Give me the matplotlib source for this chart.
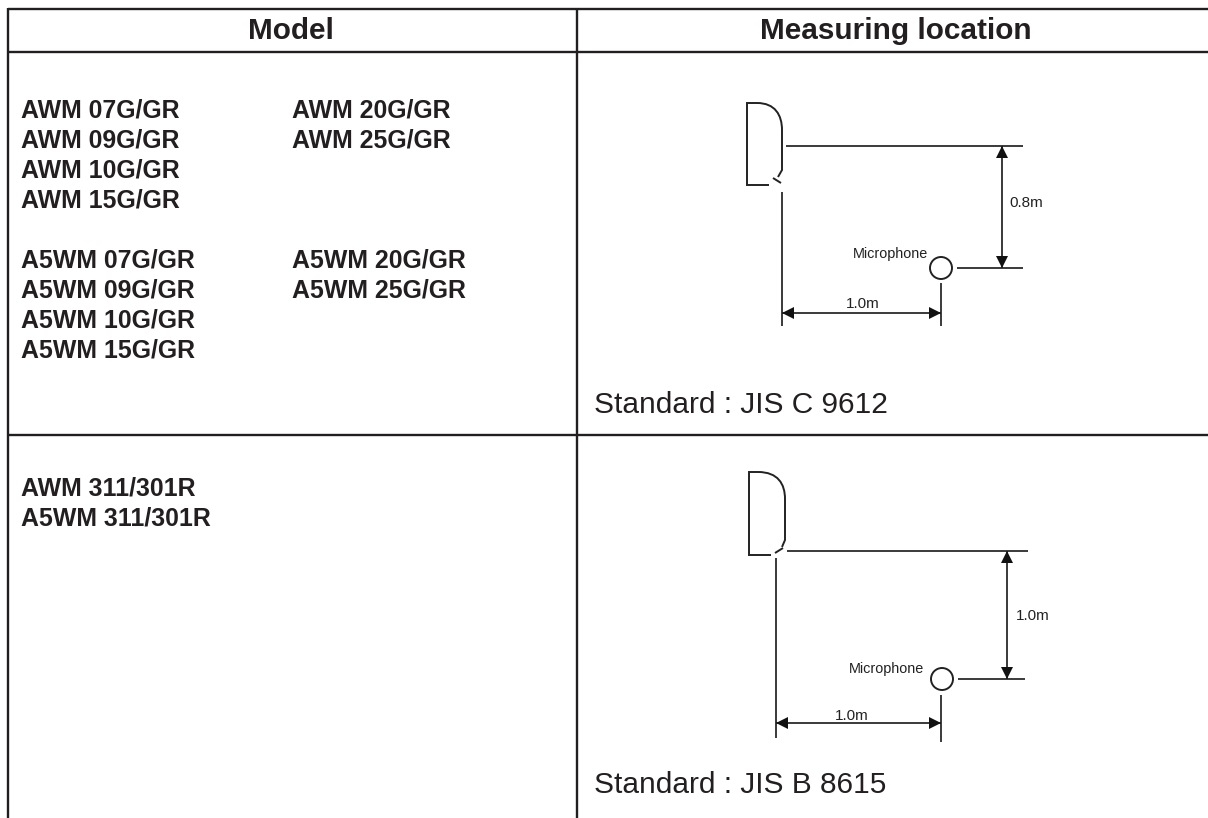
import matplotlib
matplotlib.use("Agg")
import matplotlib.pyplot as plt
from matplotlib.patches import Circle, Polygon, PathPatch
from matplotlib.path import Path

plt.rcParams['font.family'] = ['Liberation Sans', 'DejaVu Sans']

INK = '#231f20'
headers = ["Model", "Measuring location"]
models_col1 = ["AWM 07G/GR", "AWM 09G/GR", "AWM 10G/GR", "AWM 15G/GR",
               "A5WM 07G/GR", "A5WM 09G/GR", "A5WM 10G/GR", "A5WM 15G/GR"]
models_col1_y = [110.5, 140.5, 170.5, 200.5, 260.5, 290.5, 320.5, 350.5]
models_col2 = ["AWM 20G/GR", "AWM 25G/GR", "A5WM 20G/GR", "A5WM 25G/GR"]
models_col2_y = [110.5, 140.5, 260.5, 290.5]
models_row2 = ["AWM 311/301R", "A5WM 311/301R"]
models_row2_y = [489, 519]
standards = ["Standard : JIS C 9612", "Standard : JIS B 8615"]
standards_y = [405, 785]

fig = plt.figure(figsize=(12.08, 8.18), dpi=100, facecolor='white')
ax = fig.add_axes([0, 0, 1, 1])
ax.set_xlim(0, 1208)
ax.set_ylim(818, 0)
ax.axis('off')


def line(xs, ys, lw=1.25, color='#222222'):
    ax.plot(xs, ys, color=color, lw=lw, solid_capstyle='butt')


def arrowhead(tip, base_dir):
    x, y = tip
    dx, dy = base_dir
    L, W = 12, 6
    ax.add_patch(Polygon([(x, y), (x + dx * L - dy * W, y + dy * L - dx * W),
                          (x + dx * L + dy * W, y + dy * L + dx * W)],
                         closed=True, fc='#111111', ec='none', zorder=3))


def diagram(sp, tick, top_y, top_x, left_x, left_y, arr_y, right_x, right_y,
            circle, low_x, low_y, v_x, v_label, mic, h_label):
    (x0, x1, x2, yt, yb, yc, xe, ye, xb) = sp
    verts = [(xb, yb), (x0, yb), (x0, yt), (x1, yt),
             (x2 - 7, yt), (x2, yt + 12), (x2, yt + 27),
             (x2, yc), (x2, yc + 5), (xe, ye)]
    codes = [Path.MOVETO, Path.LINETO, Path.LINETO, Path.LINETO,
             Path.CURVE4, Path.CURVE4, Path.CURVE4,
             Path.LINETO, Path.LINETO, Path.LINETO]
    ax.add_patch(PathPatch(Path(verts, codes), fc='none', ec='#222222', lw=1.4))
    line(*tick, lw=1.4)
    line(top_x, [top_y, top_y])
    line([left_x, left_x], left_y)
    line([left_x, right_x], [arr_y, arr_y])
    arrowhead((left_x, arr_y), (1, 0))
    arrowhead((right_x, arr_y), (-1, 0))
    line([right_x, right_x], right_y)
    ax.add_patch(Circle(circle, 11, fc='none', ec='#222222', lw=1.4))
    line(low_x, [low_y, low_y])
    line([v_x, v_x], [top_y, low_y])
    arrowhead((v_x, top_y), (0, 1))
    arrowhead((v_x, low_y), (0, -1))
    ax.text(*v_label[:2], v_label[2], fontsize=11, ha='center', va='center', color='#222222')
    ax.text(*mic, "Microphone", fontsize=10.4, ha='center', va='center', color='#222222')
    ax.text(*h_label[:2], h_label[2], fontsize=11, ha='center', va='center', color='#222222')


# table frame
line([7.5, 1208], [8.5, 8.5], lw=1.7, color=INK)
line([7.5, 1208], [52, 52], lw=1.7, color=INK)
line([7.5, 1208], [435, 435], lw=1.7, color=INK)
line([7.5, 7.5], [8, 818], lw=1.7, color=INK)
line([577, 577], [8, 818], lw=1.7, color=INK)

ax.text(291, 31, headers[0], fontsize=21.4, fontweight='bold', ha='center', va='center', color=INK)
ax.text(896, 31, headers[1], fontsize=21.4, fontweight='bold', ha='center', va='center', color=INK)

for t, y in zip(models_col1, models_col1_y):
    ax.text(21, y, t, fontsize=17.9, fontweight='bold', va='center', color=INK)
for t, y in zip(models_col2, models_col2_y):
    ax.text(292, y, t, fontsize=17.9, fontweight='bold', va='center', color=INK)
for t, y in zip(models_row2, models_row2_y):
    ax.text(21, y, t, fontsize=17.9, fontweight='bold', va='center', color=INK)
for t, y in zip(standards, standards_y):
    ax.text(594, y, t, fontsize=21.5, va='center', color=INK)

diagram((747, 757, 782, 103, 185, 165, 778, 177, 769),
        ([773, 781], [178, 183]), 146, [786, 1023], 782, [192, 326], 313, 941, [283, 326],
        (941, 268), [957, 1023], 268, 1002, (1026, 203, "0.8m"), (890, 254), (863, 304, "1.0m"))
diagram((749, 758, 785, 472, 555, 535, 782, 547, 771),
        ([775, 783], [553, 548]), 551, [787, 1028], 776, [558, 738], 723, 941, [695, 742],
        (942, 679), [958, 1025], 679, 1007, (1033, 616, "1.0m"), (886, 669), (852, 716, "1.0m"))

fig.savefig('out.png', dpi=100)
